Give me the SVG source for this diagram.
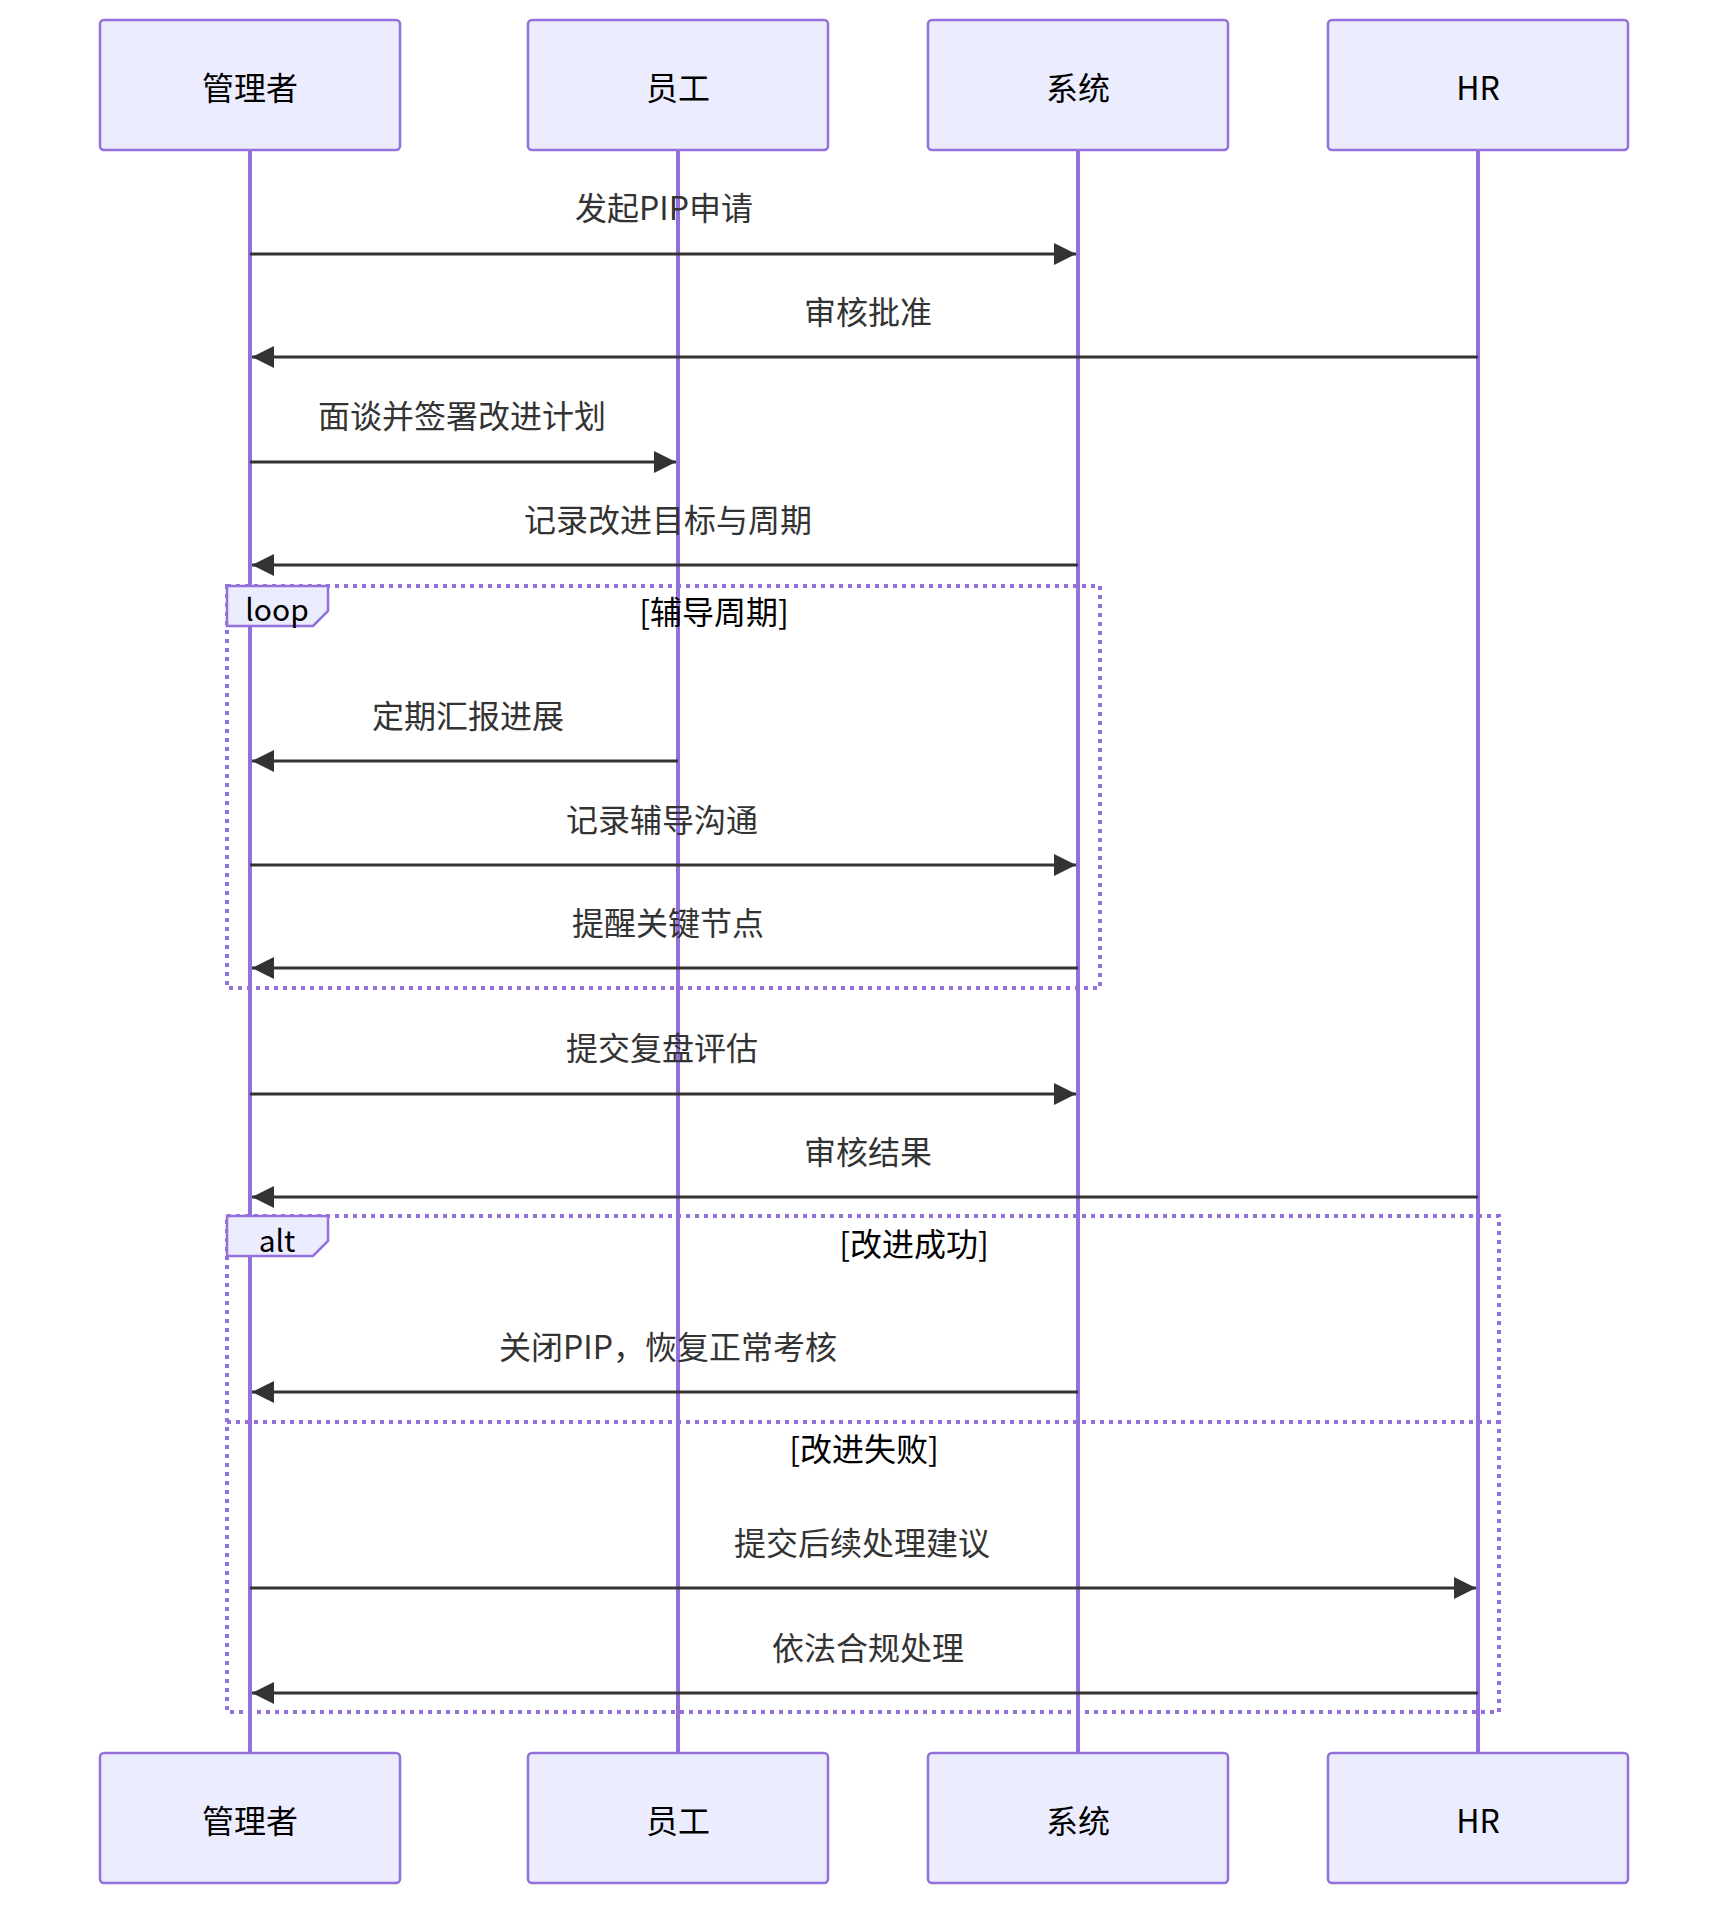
<svg xmlns="http://www.w3.org/2000/svg" width="1728" height="1906" viewBox="0 0 1728 1906">
<style>
.actor{fill:#ECECFF;stroke:#9370DB;stroke-width:2.5}
.life{stroke:#9370DB;stroke-width:4}
.t{font-family:"Noto Sans CJK SC","Liberation Sans",sans-serif;font-size:32px;text-anchor:middle;dominant-baseline:central;fill:#000}
.m{font-family:"Noto Sans CJK SC","Liberation Sans",sans-serif;font-size:32px;text-anchor:middle;fill:#333}
.msg{stroke:#333;stroke-width:3;fill:none;marker-end:url(#ah)}
.frame{fill:none;stroke:#9370DB;stroke-width:4;stroke-dasharray:4 5}
.lbl{fill:#ECECFF;stroke:#9370DB;stroke-width:2.5}
</style>
<defs>
<marker id="ah" markerWidth="12" markerHeight="12" refX="11" refY="6" orient="auto" markerUnits="userSpaceOnUse" viewBox="0 0 12 12"><path d="M0,0 L12,6 L0,12 z" fill="#333" transform="scale(1)"/></marker>
<marker id="ah2" viewBox="0 0 20 20" refX="20" refY="10" markerWidth="22" markerHeight="22" orient="auto" markerUnits="userSpaceOnUse"><path d="M0,0 L20,10 L0,20 z" fill="#333"/></marker>
</defs>
<rect width="1728" height="1906" fill="#fff"/>
<g id="lifelines">
<line class="life" x1="250" y1="150" x2="250" y2="1753"/>
<line class="life" x1="678" y1="150" x2="678" y2="1753"/>
<line class="life" x1="1078" y1="150" x2="1078" y2="1753"/>
<line class="life" x1="1478" y1="150" x2="1478" y2="1753"/>
</g>
<g id="a1"><rect class="actor" x="100" y="20" width="300" height="130" rx="4"/><text class="t" x="250" y="86">管理者</text></g>
<g id="a2"><rect class="actor" x="528" y="20" width="300" height="130" rx="4"/><text class="t" x="678" y="86">员工</text></g>
<g id="a3"><rect class="actor" x="928" y="20" width="300" height="130" rx="4"/><text class="t" x="1078" y="86">系统</text></g>
<g id="a4"><rect class="actor" x="1328" y="20" width="300" height="130" rx="4"/><text class="t" x="1478" y="86">HR</text></g>
<g id="b1"><rect class="actor" x="100" y="1753" width="300" height="130" rx="4"/><text class="t" x="250" y="1819">管理者</text></g>
<g id="b2"><rect class="actor" x="528" y="1753" width="300" height="130" rx="4"/><text class="t" x="678" y="1819">员工</text></g>
<g id="b3"><rect class="actor" x="928" y="1753" width="300" height="130" rx="4"/><text class="t" x="1078" y="1819">系统</text></g>
<g id="b4"><rect class="actor" x="1328" y="1753" width="300" height="130" rx="4"/><text class="t" x="1478" y="1819">HR</text></g>
<g id="frames">
<rect class="frame" x="227" y="586" width="873" height="402"/>
<path class="lbl" d="M227,586 H328 V611 L313,626 H227 Z"/>
<text class="t" x="277" y="608" style="font-size:30px">loop</text>
<text class="t" x="714" y="610">[辅导周期]</text>
<rect class="frame" x="227" y="1216" width="1272" height="496"/>
<path class="lbl" d="M227,1216 H328 V1241 L313,1256 H227 Z"/>
<text class="t" x="277" y="1239" style="font-size:30px">alt</text>
<text class="t" x="914" y="1242">[改进成功]</text>
<line class="frame" x1="227" y1="1422" x2="1499" y2="1422"/>
<text class="t" x="864" y="1447">[改进失败]</text>
</g>
<g id="connectors">
<line class="msg" style="marker-end:url(#ah2)" x1="250" y1="254" x2="1076" y2="254"/>
<text class="m" x="664" y="220">发起PIP申请</text>
<line class="msg" style="marker-end:url(#ah2)" x1="1478" y1="357" x2="252" y2="357"/>
<text class="m" x="868" y="324">审核批准</text>
<line class="msg" style="marker-end:url(#ah2)" x1="250" y1="462" x2="676" y2="462"/>
<text class="m" x="462" y="428">面谈并签署改进计划</text>
<line class="msg" style="marker-end:url(#ah2)" x1="1078" y1="565" x2="252" y2="565"/>
<text class="m" x="668" y="532">记录改进目标与周期</text>
<line class="msg" style="marker-end:url(#ah2)" x1="678" y1="761" x2="252" y2="761"/>
<text class="m" x="468" y="728">定期汇报进展</text>
<line class="msg" style="marker-end:url(#ah2)" x1="250" y1="865" x2="1076" y2="865"/>
<text class="m" x="662" y="832">记录辅导沟通</text>
<line class="msg" style="marker-end:url(#ah2)" x1="1078" y1="968" x2="252" y2="968"/>
<text class="m" x="668" y="935">提醒关键节点</text>
<line class="msg" style="marker-end:url(#ah2)" x1="250" y1="1094" x2="1076" y2="1094"/>
<text class="m" x="662" y="1060">提交复盘评估</text>
<line class="msg" style="marker-end:url(#ah2)" x1="1478" y1="1197" x2="252" y2="1197"/>
<text class="m" x="868" y="1164">审核结果</text>
<line class="msg" style="marker-end:url(#ah2)" x1="1078" y1="1392" x2="252" y2="1392"/>
<text class="m" x="668" y="1359">关闭PIP，恢复正常考核</text>
<line class="msg" style="marker-end:url(#ah2)" x1="250" y1="1588" x2="1476" y2="1588"/>
<text class="m" x="862" y="1555">提交后续处理建议</text>
<line class="msg" style="marker-end:url(#ah2)" x1="1478" y1="1693" x2="252" y2="1693"/>
<text class="m" x="868" y="1660">依法合规处理</text>
</g>
</svg>
